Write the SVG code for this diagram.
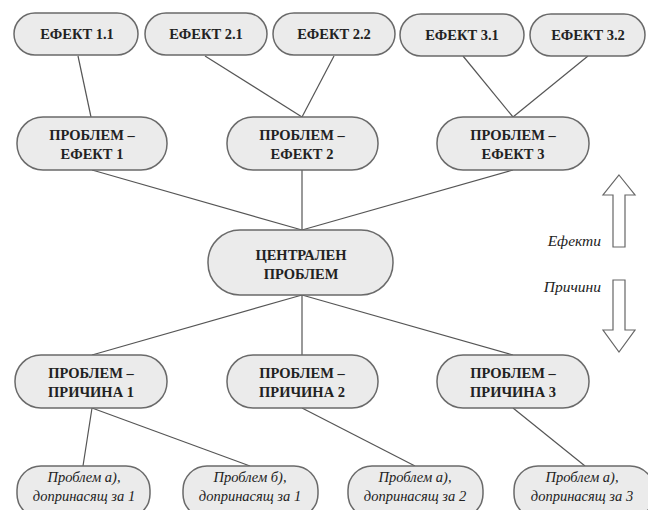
<svg xmlns="http://www.w3.org/2000/svg" width="648" height="510" viewBox="0 0 648 510">
<style>
.n{fill:#ebebeb;stroke:#6a6a6a;stroke-width:1.5}
.t{font-family:"Liberation Serif","DejaVu Serif",serif;font-weight:bold;font-size:14.5px;fill:#222;text-anchor:middle}
.s{font-family:"Liberation Serif","DejaVu Serif",serif;font-style:italic;font-size:14.5px;fill:#222;text-anchor:middle}
.l{font-family:"Liberation Serif","DejaVu Serif",serif;font-style:italic;font-size:15.5px;fill:#222;text-anchor:end}
.c{stroke:#555;stroke-width:1.2;fill:none}
.a{fill:#fff;stroke:#666;stroke-width:1.2}
</style>
<rect width="648" height="510" fill="#fff"/>
<g id="connectors">
<line class="c" x1="78" y1="56" x2="91" y2="117"/>
<line class="c" x1="205" y1="56" x2="302" y2="117"/>
<line class="c" x1="334" y1="56" x2="302" y2="117"/>
<line class="c" x1="463" y1="56" x2="513" y2="117"/>
<line class="c" x1="588" y1="56" x2="513" y2="117"/>
<line class="c" x1="92" y1="170" x2="302" y2="230"/>
<line class="c" x1="302" y1="170" x2="302" y2="230"/>
<line class="c" x1="513" y1="170" x2="302" y2="230"/>
<line class="c" x1="302" y1="295" x2="92" y2="355"/>
<line class="c" x1="302" y1="295" x2="302" y2="355"/>
<line class="c" x1="302" y1="295" x2="513" y2="355"/>
<line class="c" x1="92" y1="408" x2="83" y2="466"/>
<line class="c" x1="92" y1="408" x2="250" y2="466"/>
<line class="c" x1="302" y1="408" x2="415" y2="466"/>
<line class="c" x1="513" y1="408" x2="585" y2="466"/>
</g>
<g id="e11"><rect class="n" x="14" y="13" width="124" height="42" rx="21"/><text class="t" x="77" y="39">ЕФЕКТ 1.1</text></g>
<g id="e21"><rect class="n" x="145" y="13" width="122" height="42" rx="21"/><text class="t" x="206" y="39">ЕФЕКТ 2.1</text></g>
<g id="e22"><rect class="n" x="273" y="13" width="122" height="42" rx="21"/><text class="t" x="334" y="39">ЕФЕКТ 2.2</text></g>
<g id="e31"><rect class="n" x="400" y="14" width="124" height="42" rx="21"/><text class="t" x="462" y="40">ЕФЕКТ 3.1</text></g>
<g id="e32"><rect class="n" x="530" y="14" width="115" height="42" rx="21"/><text class="t" x="588" y="40">ЕФЕКТ 3.2</text></g>
<g id="pe1"><rect class="n" x="17" y="117" width="150" height="53" rx="26"/><text class="t" x="92" y="140">ПРОБЛЕМ –</text><text class="t" x="92" y="159">ЕФЕКТ 1</text></g>
<g id="pe2"><rect class="n" x="227" y="117" width="151" height="53" rx="26"/><text class="t" x="302" y="140">ПРОБЛЕМ –</text><text class="t" x="302" y="159">ЕФЕКТ 2</text></g>
<g id="pe3"><rect class="n" x="437" y="117" width="152" height="53" rx="26"/><text class="t" x="513" y="140">ПРОБЛЕМ –</text><text class="t" x="513" y="159">ЕФЕКТ 3</text></g>
<g id="central"><rect class="n" x="208" y="230" width="185" height="65" rx="32"/><text class="t" x="301" y="260">ЦЕНТРАЛЕН</text><text class="t" x="301" y="279">ПРОБЛЕМ</text></g>
<g id="pp1"><rect class="n" x="15" y="355" width="152" height="53" rx="26"/><text class="t" x="91" y="378">ПРОБЛЕМ –</text><text class="t" x="91" y="397">ПРИЧИНА 1</text></g>
<g id="pp2"><rect class="n" x="227" y="355" width="151" height="53" rx="26"/><text class="t" x="302" y="378">ПРОБЛЕМ –</text><text class="t" x="302" y="397">ПРИЧИНА 2</text></g>
<g id="pp3"><rect class="n" x="437" y="355" width="152" height="53" rx="26"/><text class="t" x="513" y="378">ПРОБЛЕМ –</text><text class="t" x="513" y="397">ПРИЧИНА 3</text></g>
<g id="b1a"><rect class="n" x="17" y="466" width="133" height="52" rx="24"/><text class="s" x="84" y="482">Проблем а),</text><text class="s" x="84" y="501">допринасящ за 1</text></g>
<g id="b1b"><rect class="n" x="183" y="466" width="135" height="52" rx="24"/><text class="s" x="250" y="482">Проблем б),</text><text class="s" x="250" y="501">допринасящ за 1</text></g>
<g id="b2a"><rect class="n" x="348" y="466" width="135" height="52" rx="24"/><text class="s" x="415" y="482">Проблем а),</text><text class="s" x="415" y="501">допринасящ за 2</text></g>
<g id="b3a"><rect class="n" x="514" y="466" width="140" height="52" rx="24"/><text class="s" x="582" y="482">Проблем а),</text><text class="s" x="582" y="501">допринасящ за 3</text></g>
<g id="legend">
<polygon class="a" points="619,175 635,195 625,195 625,247 613,247 613,195 603,195"/>
<text class="l" x="601" y="246">Ефекти</text>
<polygon class="a" points="613,280 625,280 625,330 635,330 619,352 603,330 613,330"/>
<text class="l" x="601" y="292">Причини</text>
</g>
</svg>
